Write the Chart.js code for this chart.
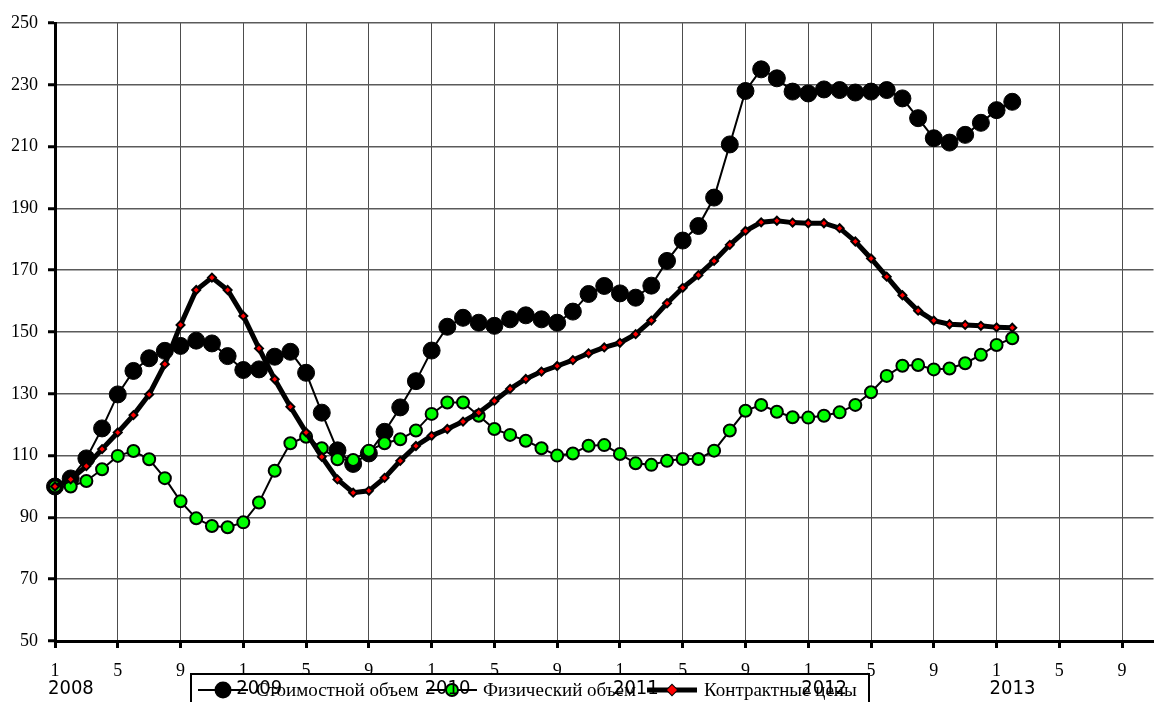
<!DOCTYPE html>
<html>
<head>
<meta charset="utf-8">
<script src="https://cdn.jsdelivr.net/npm/chart.js@4"></script>
<style>
  html, body { margin: 0; padding: 0; background: #fff; }
</style>
</head>
<body>
<canvas id="chart" width="1163" height="702"></canvas>
<script>
// months 2008-1 .. 2013-11 (the axis runs past the last data month)
const monthLabels = [
    '1','2','3','4','5','6','7','8','9','10','11','12',
    '1','2','3','4','5','6','7','8','9','10','11','12',
    '1','2','3','4','5','6','7','8','9','10','11','12',
    '1','2','3','4','5','6','7','8','9','10','11','12',
    '1','2','3','4','5','6','7','8','9','10','11','12',
    '1','2','3','4','5','6','7','8','9','10','11'
];
const yearLabels = ['2008', '2009', '2010', '2011', '2012', '2013'];
const seriesNames = ['Стоимостной объем', 'Физический объем', 'Контрактные цены'];

const valueVolume = [
    100, 102.6, 109.1, 118.8, 129.8, 137.4, 141.5, 143.9, 145.5, 147.2, 146.3, 142.2,
    137.7, 137.9, 142, 143.6, 136.8, 123.9, 111.7, 107.3, 110.7, 117.7, 125.6, 134.1,
    144, 151.7, 154.6, 153, 152, 154.1, 155.4, 154.1, 153, 156.6, 162.3, 164.9,
    162.5, 161.1, 165, 173, 179.6, 184.3, 193.5, 210.7, 228, 235, 232.1, 227.8,
    227.2, 228.5, 228.3, 227.5, 227.8, 228.3, 225.6, 219.2, 212.7, 211.3, 213.8, 217.7,
    221.8, 224.5
];
const physicalVolume = [
    100, 100, 101.8, 105.6, 109.9, 111.5, 108.8, 102.7, 95.2, 89.7, 87.2, 86.8,
    88.4, 94.8, 105.1, 114, 116.1, 112.4, 108.8, 108.6, 111.6, 114, 115.3, 118.1,
    123.5, 127.2, 127.2, 122.9, 118.6, 116.7, 114.8, 112.4, 110, 110.7, 113.2, 113.4,
    110.5, 107.5, 107, 108.3, 108.9, 108.9, 111.6, 118.1, 124.5, 126.4, 124.2, 122.4,
    122.3, 122.9, 124, 126.4, 130.5, 135.8, 139.1, 139.3, 137.9, 138.2, 139.9, 142.6,
    145.8, 148
];
const contractPrices = [
    100, 102.3, 106.6, 112.1, 117.5, 123.1, 129.8, 139.6, 152.3, 163.6, 167.6, 163.6,
    155.2, 144.7, 134.7, 125.8, 117.5, 109.6, 102.3, 98, 98.6, 102.8, 108.3, 113.1,
    116.4, 118.6, 121, 123.9, 127.7, 131.6, 134.8, 137.2, 139, 140.9, 143.1, 145,
    146.5, 149.3, 153.7, 159.3, 164.3, 168.4, 173, 178.2, 182.7, 185.5, 186, 185.4,
    185.2, 185.2, 183.6, 179.3, 173.8, 167.9, 161.9, 156.9, 153.7, 152.5, 152.3, 152,
    151.5, 151.4
];

const serif = '"Liberation Serif", "Times New Roman", serif';
const narrow = '"Liberation Sans Narrow", "DejaVu Sans Condensed", sans-serif';

// legend box in the bottom strip, then the year captions drawn over it
const legendAndYears = {
    id: 'legendAndYears',
    afterDraw(chart) {
        const ctx = chart.ctx;
        const y = 690;
        ctx.save();
        ctx.fillStyle = '#fff';
        ctx.fillRect(191, 674, 678, 30);
        ctx.strokeStyle = '#000';
        ctx.lineWidth = 2;
        ctx.strokeRect(191, 674, 678, 40);

        // value volume
        ctx.lineWidth = 2;
        ctx.beginPath(); ctx.moveTo(198, y); ctx.lineTo(248, y); ctx.stroke();
        ctx.fillStyle = '#000';
        ctx.beginPath(); ctx.arc(223, y, 8.5, 0, Math.PI * 2); ctx.fill();

        // physical volume
        ctx.beginPath(); ctx.moveTo(427, y); ctx.lineTo(477, y); ctx.stroke();
        ctx.fillStyle = '#00ff00';
        ctx.beginPath(); ctx.arc(452, y, 6, 0, Math.PI * 2); ctx.fill(); ctx.stroke();

        // contract prices
        ctx.lineWidth = 5;
        ctx.beginPath(); ctx.moveTo(647, y); ctx.lineTo(697, y); ctx.stroke();
        ctx.lineWidth = 2;
        ctx.fillStyle = '#ff0000';
        ctx.beginPath();
        ctx.moveTo(672, y - 5); ctx.lineTo(677, y); ctx.lineTo(672, y + 5); ctx.lineTo(667, y);
        ctx.closePath(); ctx.stroke(); ctx.fill();

        ctx.fillStyle = '#000';
        ctx.font = '19px ' + serif;
        ctx.textBaseline = 'middle';
        ctx.textAlign = 'left';
        ctx.fillText(seriesNames[0], 256, y + 1);
        ctx.fillText(seriesNames[1], 483, y + 1);
        ctx.fillText(seriesNames[2], 704, y + 1);

        // years under the January ticks
        const xs = chart.scales.x;
        ctx.font = '20px ' + narrow;
        yearLabels.forEach((yr, i) => {
            ctx.fillText(yr, xs.getPixelForValue(i * 12) - 7, 689);
        });
        ctx.restore();
    }
};

new Chart(document.getElementById('chart'), {
    type: 'line',
    data: {
        labels: monthLabels,
        datasets: [
            {
                label: seriesNames[0],
                data: valueVolume,
                borderColor: '#000',
                borderWidth: 2,
                pointRadius: 8.5,
                pointBackgroundColor: '#000',
                pointBorderColor: '#000',
                pointBorderWidth: 1,
                clip: false,
                order: 3,
            },
            {
                label: seriesNames[1],
                data: physicalVolume,
                borderColor: '#000',
                borderWidth: 2,
                pointRadius: 6,
                pointBackgroundColor: '#00ff00',
                pointBorderColor: '#000',
                pointBorderWidth: 2,
                clip: false,
                order: 2,
            },
            {
                label: seriesNames[2],
                data: contractPrices,
                borderColor: '#000',
                borderWidth: 5,
                pointStyle: 'rectRot',
                pointRadius: 4,
                pointBackgroundColor: '#ff0000',
                pointBorderColor: '#000',
                pointBorderWidth: 2,
                clip: false,
                order: 1,
            },
        ],
    },
    options: {
        responsive: false,
        animation: false,
        events: [],
        layout: { padding: { top: 23, right: 3, left: 0, bottom: 0 } },
        plugins: {
            legend: { display: false },
            tooltip: { enabled: false },
        },
        scales: {
            x: {
                type: 'category',
                offset: false,
                afterBuildTicks(scale) {
                    scale.ticks = scale.ticks.filter(t => t.value % 4 === 0);
                },
                afterFit(scale) { scale.height = 61; },
                ticks: {
                    autoSkip: false,
                    maxRotation: 0,
                    color: '#000',
                    padding: 12,
                    font: { family: serif, size: 18 },
                },
                grid: {
                    color: '#4d4d4d',
                    lineWidth: 1,
                    tickLength: 7,
                    tickColor: '#000',
                    tickWidth: 3,
                },
                border: { color: '#000', width: 3 },
            },
            y: {
                min: 50,
                max: 250,
                afterFit(scale) { scale.width = 55; },
                ticks: {
                    stepSize: 20,
                    color: '#000',
                    padding: 10,
                    font: { family: serif, size: 18 },
                },
                grid: {
                    color: '#5a5a5a',
                    lineWidth: 1.5,
                    tickLength: 7,
                    tickColor: '#000',
                    tickWidth: 3,
                },
                border: { color: '#000', width: 3 },
            },
        },
    },
    plugins: [legendAndYears],
});
</script>
</body>
</html>
